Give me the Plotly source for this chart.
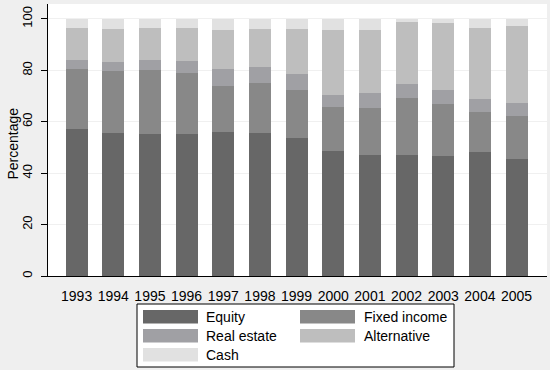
import plotly.graph_objects as go

years = [1993, 1994, 1995, 1996, 1997, 1998, 1999, 2000, 2001, 2002, 2003, 2004, 2005]
year_labels = [str(y) for y in years]
equity = [57.2, 55.6, 55.3, 55.3, 56.0, 55.6, 53.6, 48.6, 47.1, 47.1, 46.7, 48.2, 45.5]
fixed_income = [23.3, 24.2, 24.7, 23.7, 18.1, 19.5, 18.6, 17.0, 18.1, 22.2, 20.2, 15.7, 16.9]
real_estate = [3.7, 3.5, 4.2, 4.7, 6.4, 6.2, 6.4, 4.8, 6.0, 5.5, 5.6, 5.0, 4.8]
alternative = [12.4, 12.8, 12.3, 12.8, 15.2, 14.8, 17.5, 25.1, 24.3, 23.9, 26.1, 27.7, 30.2]
cash = [3.4, 3.9, 3.5, 3.5, 4.3, 3.9, 3.9, 4.5, 4.5, 1.3, 1.4, 3.4, 2.6]
tick_vals_y = [0, 20, 40, 60, 80, 100]

series = [
    ("Equity", equity, "#676767"),
    ("Fixed income", fixed_income, "#888888"),
    ("Real estate", real_estate, "#a0a0a4"),
    ("Alternative", alternative, "#bebebe"),
    ("Cash", cash, "#e1e1e1"),
]

FONT = "Liberation Sans, Arial, sans-serif"
W, H = 550, 370
L, R, T, B = 48, 547, 4, 276

fig = go.Figure()
for name, vals, col in series:
    fig.add_trace(go.Bar(x=years, y=vals, name=name, width=0.6,
                         marker=dict(color=col, line=dict(width=0)),
                         showlegend=False))

def px(x):
    return (x - L) / (R - L)

def py(y):
    return (B - y) / (B - T)

# custom legend
shapes = [dict(type="rect", xref="paper", yref="paper",
               x0=px(137), x1=px(454), y0=py(304), y1=py(367),
               line=dict(color="black", width=1), fillcolor="white", layer="above")]
annotations = [dict(xref="paper", yref="paper", x=px(12.5), y=py(144),
                    text="Percentage", showarrow=False, textangle=-90,
                    xanchor="center", yanchor="middle",
                    font=dict(family=FONT, size=14, color="black"))]
pos = [(143, 204, 310), (300, 362, 310), (143, 204, 329), (300, 362, 329), (143, 204, 348)]
for (name, vals, col), (sx, tx, sy) in zip(series, pos):
    shapes.append(dict(type="rect", xref="paper", yref="paper",
                       x0=px(sx), x1=px(sx + 55), y0=py(sy), y1=py(sy + 13.5),
                       line=dict(width=0), fillcolor=col, layer="above"))
    annotations.append(dict(xref="paper", yref="paper", x=px(tx), y=py(sy + 7),
                            text=name, showarrow=False, xanchor="left", yanchor="middle",
                            font=dict(family=FONT, size=14, color="black")))

fig.update_layout(
    width=W, height=H,
    barmode="stack",
    paper_bgcolor="#efefef",
    plot_bgcolor="white",
    margin=dict(l=L, r=W - R, t=T, b=H - B, pad=0, autoexpand=False),
    font=dict(family=FONT, size=13, color="black"),
    shapes=shapes,
    annotations=annotations,
    xaxis=dict(range=[1992.22, 2005.83], tickvals=years, ticktext=year_labels,
               showgrid=False, zeroline=False, showline=True, linecolor="black",
               linewidth=1, ticks="", ticklabelstandoff=7, automargin=False,
               tickfont=dict(family=FONT, size=14)),
    yaxis=dict(range=[0, 105.8], tickvals=tick_vals_y, tickangle=-90,
               showgrid=True, gridcolor="#f0f0f0", gridwidth=1,
               zeroline=False, showline=True, linecolor="black", linewidth=1,
               ticks="outside", ticklen=6, tickcolor="black", automargin=False,
               ticklabelstandoff=4,
               tickfont=dict(family=FONT, size=13)),
)

fig.write_html("out.html", config={"displayModeBar": False},
               post_script="document.body.style.margin='0';document.body.style.overflow='hidden';")
